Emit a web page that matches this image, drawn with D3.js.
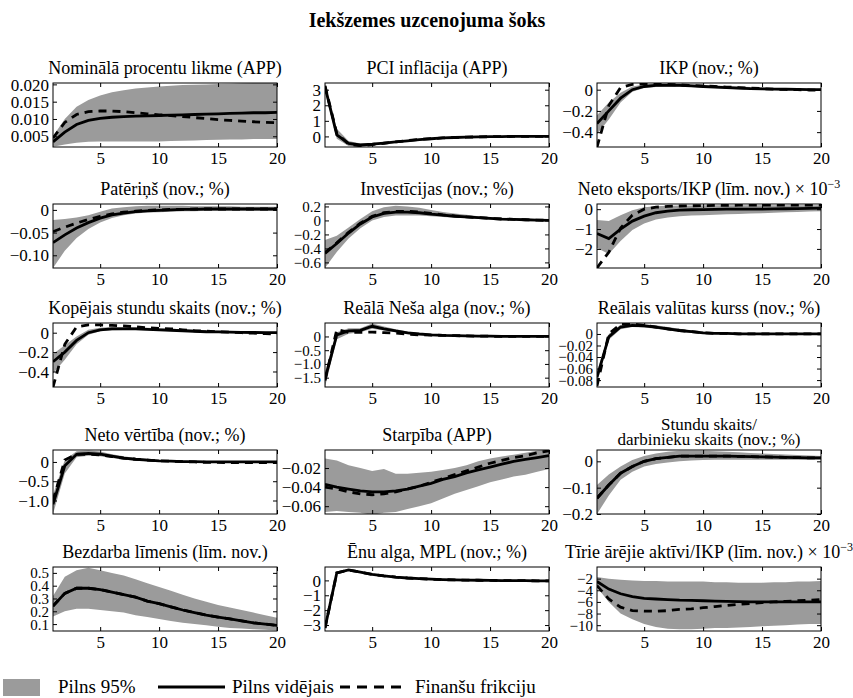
<!DOCTYPE html>
<html>
<head>
<meta charset="utf-8">
<script src="https://cdn.jsdelivr.net/npm/d3@7/dist/d3.min.js"></script>
<style>
  body { margin: 0; background: #fff; }
  svg text { font-family: "Liberation Serif", "Times New Roman", serif; fill: #000; }
</style>
</head>
<body>
<svg id="chart" width="853" height="698"></svg>
<script>
// horizon, 1..20 quarters
const periods = d3.range(1, 21);
const xTicks = [5, 10, 15, 20];

// --- series: med = median, lo/hi = 95% band, ff = financial frictions
const nomMed = [0.0034,0.0062,0.0084,0.0096,0.0102,0.0105,0.0107,0.0108,0.0109,0.0110,0.0111,0.0112,0.0113,0.0114,0.0115,0.0116,0.0117,0.0118,0.0118,0.0119];
const nomLo  = [0.0020,0.0026,0.0031,0.0034,0.0035,0.0035,0.0035,0.0035,0.0035,0.0035,0.0036,0.0037,0.0038,0.0039,0.0040,0.0041,0.0041,0.0042,0.0042,0.0042];
const nomHi  = [0.0050,0.0100,0.0135,0.0155,0.0168,0.0177,0.0183,0.0188,0.0191,0.0194,0.0196,0.0198,0.0199,0.0200,0.0201,0.0202,0.0203,0.0204,0.0205,0.0205];
const nomFf  = [0.0045,0.0090,0.0113,0.0121,0.0123,0.0123,0.0121,0.0118,0.0115,0.0112,0.0110,0.0107,0.0104,0.0101,0.0098,0.0096,0.0094,0.0092,0.0090,0.0089];

const pciMed = [3.2,0.1,-0.45,-0.55,-0.5,-0.43,-0.35,-0.28,-0.2,-0.15,-0.1,-0.07,-0.05,-0.03,-0.02,-0.01,0,0,0,0];
const pciLo  = [2.9,-0.15,-0.62,-0.66,-0.58,-0.5,-0.4,-0.32,-0.24,-0.18,-0.13,-0.1,-0.08,-0.06,-0.05,-0.04,-0.04,-0.04,-0.04,-0.04];
const pciHi  = [3.4,0.5,-0.3,-0.45,-0.43,-0.37,-0.3,-0.23,-0.16,-0.11,-0.07,-0.04,-0.02,0,0.01,0.02,0.03,0.03,0.03,0.03];
const pciFf  = [3.25,0.2,-0.5,-0.6,-0.52,-0.44,-0.35,-0.27,-0.2,-0.14,-0.1,-0.07,-0.05,-0.03,-0.02,-0.01,0,0,0,0];

const ikpMed = [-0.32,-0.2,-0.08,0,0.03,0.04,0.04,0.04,0.035,0.03,0.025,0.02,0.015,0.01,0.008,0.006,0.004,0.002,0.001,0];
const ikpLo  = [-0.42,-0.28,-0.12,-0.02,0.015,0.025,0.028,0.028,0.025,0.02,0.015,0.01,0.005,0.002,0,-0.002,-0.004,-0.005,-0.006,-0.007];
const ikpHi  = [-0.24,-0.12,-0.03,0.03,0.05,0.058,0.058,0.055,0.05,0.045,0.04,0.035,0.03,0.025,0.02,0.017,0.014,0.012,0.01,0.008];
const ikpFf  = [-0.54,-0.15,0.02,0.05,0.055,0.055,0.05,0.045,0.04,0.035,0.03,0.025,0.02,0.015,0.01,0.005,0.002,0,-0.003,-0.005];

const patMed = [-0.072,-0.055,-0.04,-0.028,-0.018,-0.011,-0.007,-0.004,-0.002,-0.001,0,0.001,0.001,0.002,0.002,0.002,0.002,0.002,0.002,0.002];
const patLo  = [-0.128,-0.09,-0.062,-0.042,-0.028,-0.018,-0.012,-0.008,-0.006,-0.005,-0.004,-0.003,-0.003,-0.002,-0.002,-0.002,-0.002,-0.002,-0.002,-0.002];
const patHi  = [-0.022,-0.02,-0.017,-0.012,-0.004,0.003,0.006,0.008,0.009,0.009,0.009,0.009,0.008,0.008,0.008,0.008,0.007,0.007,0.007,0.007];
const patFf  = [-0.048,-0.038,-0.029,-0.021,-0.014,-0.009,-0.005,-0.003,-0.001,0,0.001,0.001,0.002,0.002,0.002,0.002,0.002,0.002,0.002,0.002];

const invMed = [-0.47,-0.33,-0.18,-0.05,0.05,0.1,0.12,0.12,0.11,0.09,0.075,0.06,0.05,0.04,0.03,0.02,0.015,0.01,0.005,0];
const invLo  = [-0.68,-0.45,-0.26,-0.11,0,0.05,0.07,0.07,0.07,0.06,0.05,0.04,0.03,0.02,0.015,0.01,0.005,0,-0.005,-0.01];
const invHi  = [-0.28,-0.22,-0.1,0.02,0.13,0.19,0.21,0.2,0.18,0.15,0.12,0.1,0.08,0.06,0.05,0.04,0.03,0.02,0.015,0.01];
const invFf  = [-0.46,-0.32,-0.17,-0.04,0.06,0.11,0.13,0.13,0.12,0.1,0.08,0.065,0.05,0.04,0.03,0.02,0.015,0.01,0.005,0];

const nxMed = [-1.22,-1.48,-1.0,-0.6,-0.35,-0.18,-0.1,-0.05,-0.03,-0.02,-0.01,0,0,0,0,0.01,0.02,0.03,0.04,0.05];
const nxLo  = [-1.95,-2.25,-1.6,-1.05,-0.72,-0.52,-0.42,-0.36,-0.32,-0.3,-0.28,-0.26,-0.24,-0.22,-0.2,-0.18,-0.16,-0.14,-0.12,-0.1];
const nxHi  = [-0.55,-0.6,-0.3,-0.05,0.1,0.15,0.17,0.18,0.19,0.2,0.2,0.2,0.2,0.2,0.2,0.2,0.2,0.2,0.2,0.2];
const nxFf  = [-2.95,-2.17,-0.95,-0.3,0,0.1,0.14,0.16,0.17,0.18,0.19,0.19,0.2,0.2,0.2,0.2,0.2,0.2,0.2,0.2];

const hrsMed = [-0.3,-0.2,-0.08,0,0.03,0.04,0.04,0.04,0.035,0.03,0.025,0.02,0.015,0.01,0.008,0.006,0.004,0.002,0.001,0];
const hrsLo  = [-0.42,-0.28,-0.12,-0.02,0.015,0.025,0.028,0.028,0.025,0.02,0.015,0.01,0.005,0.002,0,-0.003,-0.005,-0.006,-0.008,-0.01];
const hrsHi  = [-0.22,-0.13,-0.04,0.03,0.05,0.058,0.058,0.055,0.05,0.045,0.04,0.035,0.03,0.025,0.02,0.017,0.014,0.012,0.01,0.008];
const hrsFf  = [-0.56,-0.12,0.06,0.08,0.08,0.075,0.07,0.06,0.05,0.045,0.04,0.03,0.02,0.015,0.01,0.005,0,-0.005,-0.01,-0.012];

const wageMed = [-1.55,0.06,0.2,0.22,0.37,0.28,0.2,0.13,0.09,0.06,0.04,0.03,0.02,0.01,0.01,0,0,0,0,0];
const wageLo  = [-1.84,-0.1,0.1,0.15,0.28,0.22,0.15,0.09,0.06,0.03,0.02,0.01,0,-0.01,-0.01,-0.02,-0.02,-0.02,-0.02,-0.02];
const wageHi  = [-1.3,0.15,0.3,0.3,0.47,0.36,0.26,0.18,0.13,0.09,0.07,0.05,0.04,0.03,0.03,0.02,0.02,0.02,0.02,0.02];
const wageFf  = [-1.6,0.25,0.15,0.15,0.16,0.14,0.12,0.08,0.06,0.05,0.04,0.03,0.02,0.01,0.01,0,0,0,0,0];

const rerMed = [-0.075,-0.005,0.012,0.015,0.014,0.012,0.009,0.006,0.004,0.002,0.001,0.001,0,0,0,0,0,0,0,0];
const rerLo  = [-0.085,-0.01,0.008,0.012,0.011,0.009,0.006,0.004,0.002,0.001,0,-0.001,-0.001,-0.001,-0.001,-0.001,-0.001,-0.001,-0.001,-0.001];
const rerHi  = [-0.065,0,0.016,0.018,0.017,0.015,0.012,0.009,0.006,0.004,0.003,0.002,0.002,0.001,0.001,0.001,0.001,0.001,0.001,0.001];
const rerFf  = [-0.09,0,0.017,0.017,0.015,0.012,0.009,0.006,0.004,0.002,0.001,0.001,0,0,0,0,0,0,0,0];

const nwMed = [-1.1,-0.1,0.2,0.22,0.2,0.15,0.1,0.07,0.05,0.03,0.02,0.01,0.01,0,0,0,0,0,0,0];
const nwLo  = [-1.35,-0.3,0.12,0.16,0.15,0.1,0.06,0.04,0.02,0.01,0,-0.01,-0.01,-0.02,-0.02,-0.02,-0.02,-0.02,-0.02,-0.02];
const nwHi  = [-0.85,0.05,0.28,0.3,0.27,0.2,0.15,0.1,0.08,0.05,0.04,0.03,0.02,0.02,0.02,0.02,0.02,0.02,0.02,0.02];
const nwFf  = [-1.0,0.05,0.2,0.2,0.18,0.14,0.1,0.07,0.05,0.03,0.02,0.01,0,-0.01,-0.01,-0.02,-0.02,-0.02,-0.02,-0.02];

const sprMed = [-0.037,-0.04,-0.042,-0.044,-0.045,-0.045,-0.044,-0.042,-0.039,-0.036,-0.032,-0.029,-0.025,-0.022,-0.019,-0.016,-0.013,-0.011,-0.009,-0.007];
const sprLo  = [-0.066,-0.065,-0.066,-0.067,-0.069,-0.067,-0.066,-0.063,-0.06,-0.057,-0.052,-0.047,-0.043,-0.039,-0.035,-0.032,-0.029,-0.027,-0.024,-0.021];
const sprHi  = [-0.01,-0.012,-0.017,-0.02,-0.023,-0.021,-0.026,-0.026,-0.025,-0.024,-0.022,-0.02,-0.017,-0.013,-0.01,-0.008,-0.006,-0.004,-0.002,-0.001];
const sprFf  = [-0.04,-0.042,-0.045,-0.047,-0.048,-0.047,-0.045,-0.042,-0.039,-0.035,-0.031,-0.027,-0.023,-0.019,-0.015,-0.012,-0.009,-0.007,-0.004,-0.002];

const hpwMed = [-0.14,-0.09,-0.045,-0.02,0,0.01,0.015,0.02,0.02,0.02,0.02,0.02,0.019,0.018,0.017,0.016,0.015,0.014,0.013,0.013];
const hpwLo  = [-0.2,-0.13,-0.07,-0.04,-0.02,-0.01,-0.004,0,0.003,0.005,0.006,0.006,0.006,0.006,0.006,0.006,0.006,0.006,0.006,0.006];
const hpwHi  = [-0.09,-0.05,-0.02,0.005,0.02,0.03,0.036,0.04,0.04,0.04,0.038,0.036,0.034,0.032,0.03,0.028,0.026,0.024,0.022,0.02];
const hpwFf  = [-0.14,-0.09,-0.045,-0.02,0,0.01,0.015,0.02,0.02,0.02,0.02,0.02,0.019,0.018,0.017,0.016,0.015,0.014,0.013,0.013];

const unMed = [0.24,0.34,0.38,0.38,0.37,0.35,0.33,0.31,0.28,0.26,0.235,0.21,0.19,0.17,0.155,0.14,0.125,0.11,0.1,0.09];
const unLo  = [0.16,0.2,0.22,0.22,0.21,0.2,0.19,0.17,0.155,0.14,0.125,0.11,0.1,0.09,0.08,0.07,0.065,0.06,0.055,0.05];
const unHi  = [0.32,0.47,0.52,0.54,0.52,0.5,0.48,0.45,0.42,0.39,0.36,0.33,0.3,0.275,0.25,0.23,0.21,0.19,0.17,0.15];
const unFf  = [0.24,0.34,0.38,0.38,0.37,0.35,0.33,0.31,0.28,0.26,0.235,0.21,0.19,0.17,0.155,0.14,0.125,0.11,0.1,0.09];

const mplMed = [-3.2,0.5,0.7,0.55,0.4,0.3,0.22,0.16,0.12,0.08,0.05,0.03,0.02,0.01,0,-0.01,-0.02,-0.02,-0.03,-0.03];
const mplLo  = [-3.25,0.45,0.65,0.5,0.36,0.26,0.19,0.13,0.09,0.05,0.02,0,-0.01,-0.02,-0.03,-0.04,-0.05,-0.05,-0.06,-0.06];
const mplHi  = [-3.15,0.55,0.75,0.6,0.44,0.34,0.25,0.19,0.15,0.11,0.08,0.06,0.05,0.04,0.03,0.02,0.01,0.01,0,0];
const mplFf  = [-3.2,0.5,0.7,0.55,0.4,0.3,0.22,0.16,0.12,0.08,0.05,0.03,0.02,0.01,0,-0.01,-0.02,-0.02,-0.03,-0.03];

const nfaMed = [-2.5,-3.8,-4.6,-5.1,-5.4,-5.5,-5.6,-5.7,-5.75,-5.8,-5.85,-5.9,-5.95,-6,-6,-6,-6,-6,-6,-6];
const nfaLo  = [-3.5,-6,-8,-9,-9.8,-10.3,-10.6,-10.7,-10.7,-10.6,-10.5,-10.5,-10.4,-10.3,-10.2,-10.1,-10,-9.9,-9.8,-9.8];
const nfaHi  = [-1.7,-2.0,-2.2,-2.3,-2.4,-2.4,-2.5,-2.5,-2.5,-2.5,-2.6,-2.6,-2.7,-2.7,-2.7,-2.6,-2.6,-2.5,-2.5,-2.4];
const nfaFf  = [-3.2,-5.5,-6.9,-7.5,-7.6,-7.6,-7.5,-7.3,-7.2,-7,-6.8,-6.6,-6.4,-6.3,-6.1,-6,-5.9,-5.8,-5.7,-5.6];

// panel titles, y ranges and tick labels
const titles = [
  ['Nominālā procentu likme (APP)'], ['PCI inflācija (APP)'], ['IKP (nov.; %)'],
  ['Patēriņš (nov.; %)'], ['Investīcijas (nov.; %)'], ['Neto eksports/IKP (līm. nov.) × 10', '−3'],
  ['Kopējais stundu skaits (nov.; %)'], ['Reālā Neša alga (nov.; %)'], ['Reālais valūtas kurss (nov.; %)'],
  ['Neto vērtība (nov.; %)'], ['Starpība (APP)'], ['Stundu skaits/', 'darbinieku skaits (nov.; %)'],
  ['Bezdarba līmenis (līm. nov.)'], ['Ēnu alga, MPL (nov.; %)'], ['Tīrie ārējie aktīvi/IKP (līm. nov.) × 10', '−3']
];
const yDomains = [
  [0.0019, 0.0204], [-0.68, 3.43], [-0.54, 0.063],
  [-0.128, 0.013], [-0.68, 0.235], [-2.96, 0.26],
  [-0.56, 0.1], [-1.84, 0.49], [-0.092, 0.019],
  [-1.35, 0.31], [-0.0682, -0.0011], [-0.2, 0.043],
  [0.046, 0.546], [-3.4, 0.9], [-11, 0]
];
const yTicks = [
  [0.005, 0.010, 0.015, 0.020], [0, 1, 2, 3], [-0.4, -0.2, 0],
  [-0.10, -0.05, 0], [-0.6, -0.4, -0.2, 0, 0.2], [-2, -1, 0],
  [-0.4, -0.2, 0], [-1.5, -1.0, -0.5, 0], [-0.08, -0.06, -0.04, -0.02, 0],
  [-1.0, -0.5, 0], [-0.06, -0.04, -0.02], [-0.2, -0.1, 0],
  [0.1, 0.2, 0.3, 0.4, 0.5], [-3, -2, -1, 0], [-10, -8, -6, -4, -2]
];
const yFormats = [
  '.3f', 'd', '.1f',
  '.2f', '.1f', 'd',
  '.1f', '.1f', '.2f',
  '.1f', '.2f', '.1f',
  '.1f', 'd', 'd'
];
const series = [
  [nomMed, nomLo, nomHi, nomFf], [pciMed, pciLo, pciHi, pciFf], [ikpMed, ikpLo, ikpHi, ikpFf],
  [patMed, patLo, patHi, patFf], [invMed, invLo, invHi, invFf], [nxMed, nxLo, nxHi, nxFf],
  [hrsMed, hrsLo, hrsHi, hrsFf], [wageMed, wageLo, wageHi, wageFf], [rerMed, rerLo, rerHi, rerFf],
  [nwMed, nwLo, nwHi, nwFf], [sprMed, sprLo, sprHi, sprFf], [hpwMed, hpwLo, hpwHi, hpwFf],
  [unMed, unLo, unHi, unFf], [mplMed, mplLo, mplHi, mplFf], [nfaMed, nfaLo, nfaHi, nfaFf]
];

const legendLabels = ['Pilns 95%', 'Pilns vidējais', 'Finanšu frikciju'];

// layout
const colLeft = [53, 325, 597];
const rowTop = [83, 204, 323, 450, 567];
const pw = 224, ph = 64;
const bandColor = '#9b9b9b';
const tickFont = 17, titleFont = 18;
// crowded tick columns get a slightly smaller font
const crowded = [4, 7, 8, 12, 14];
const tickFontFor = i => crowded.includes(i) ? 15 : tickFont;

const svg = d3.select('#chart');

svg.append('text')
    .attr('x', 427).attr('y', 27)
    .attr('text-anchor', 'middle')
    .attr('font-size', 20).attr('font-weight', 'bold')
    .text('Iekšzemes uzcenojuma šoks');

const minusFmt = f => v => v === 0 ? '0' : d3.format(f)(v).replace('-', '−');

titles.forEach(function (title, i) {
    let col = i % 3, row = Math.floor(i / 3);
    let x0 = colLeft[col], y0 = rowTop[row];
    let [med, lo, hi, ff] = series[i];

    let x = d3.scaleLinear().domain([1, 20]).range([0, pw]);
    let y = d3.scaleLinear().domain(yDomains[i]).range([ph, 0]);

    let g = svg.append('g').attr('transform', 'translate(' + x0 + ',' + y0 + ')');

    g.append('clipPath').attr('id', 'clip' + i)
        .append('rect').attr('width', pw).attr('height', ph);

    let plot = g.append('g').attr('clip-path', 'url(#clip' + i + ')');

    let area = d3.area()
        .x((d, k) => x(periods[k]))
        .y0((d, k) => y(lo[k]))
        .y1((d, k) => y(hi[k]));
    plot.append('path').datum(med).attr('d', area).attr('fill', bandColor);

    let line = d3.line().x((d, k) => x(periods[k])).y(d => y(d));
    plot.append('path').datum(ff).attr('d', line)
        .attr('fill', 'none').attr('stroke', '#000').attr('stroke-width', 2.8)
        .attr('stroke-dasharray', '8,6');
    plot.append('path').datum(med).attr('d', line)
        .attr('fill', 'none').attr('stroke', '#000').attr('stroke-width', 2.8);

    // axes: ticks inside, Matlab style box
    let fmt = minusFmt(yFormats[i]);
    let ax = g.append('g').call(d3.axisLeft(y).tickValues(yTicks[i]).tickFormat(fmt).tickSize(-4).tickPadding(4));
    ax.selectAll('text').attr('font-size', tickFontFor(i)).attr('dy', '0.33em');
    g.append('g').attr('transform', 'translate(' + pw + ',0)')
        .call(d3.axisRight(y).tickValues(yTicks[i]).tickFormat('').tickSize(-4));
    let bx = g.append('g').attr('transform', 'translate(0,' + ph + ')')
        .call(d3.axisBottom(x).tickValues(xTicks).tickSize(-4).tickPadding(5));
    bx.selectAll('text').attr('font-size', tickFont);
    g.append('g').call(d3.axisTop(x).tickValues(xTicks).tickFormat('').tickSize(-4));
    g.selectAll('.domain').remove();
    g.selectAll('.tick line').attr('stroke', '#000');

    g.append('rect').attr('width', pw).attr('height', ph)
        .attr('fill', 'none').attr('stroke', '#000').attr('stroke-width', 1);

    // title
    if (i === 11) {
        title.forEach(function (t, k) {
            g.append('text').attr('x', pw / 2).attr('y', -20 + k * 15)
                .attr('text-anchor', 'middle').attr('font-size', 17).text(t);
        });
    } else {
        let tt = g.append('text').attr('x', pw / 2).attr('y', -9)
            .attr('text-anchor', 'middle').attr('font-size', titleFont);
        tt.append('tspan').text(title[0]);
        if (title.length > 1) {
            tt.append('tspan').attr('dy', -7).attr('font-size', 12).text(title[1]);
        }
    }
});

// legend
let leg = svg.append('g').attr('transform', 'translate(0,687)');
leg.append('rect').attr('x', 3).attr('y', -8).attr('width', 37).attr('height', 17).attr('fill', bandColor);
leg.append('text').attr('x', 58).attr('y', 6).attr('font-size', 19).text(legendLabels[0]);
leg.append('line').attr('x1', 158).attr('x2', 225).attr('stroke', '#000').attr('stroke-width', 2.8);
leg.append('text').attr('x', 232).attr('y', 6).attr('font-size', 19).text(legendLabels[1]);
leg.append('line').attr('x1', 340).attr('x2', 405).attr('stroke', '#000').attr('stroke-width', 2.8)
    .attr('stroke-dasharray', '10,7');
leg.append('text').attr('x', 415).attr('y', 6).attr('font-size', 19).text(legendLabels[2]);
</script>
</body>
</html>
